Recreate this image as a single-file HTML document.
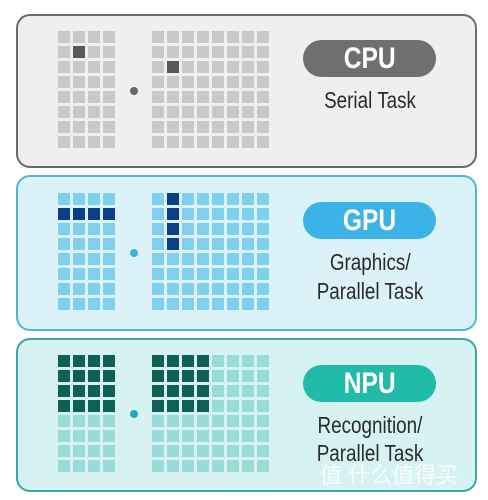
<!DOCTYPE html>
<html><head><meta charset="utf-8"><style>
html,body{margin:0;padding:0;width:488px;height:500px;background:#fff;overflow:hidden;font-family:"Liberation Sans",sans-serif}
.box{position:absolute;left:16px;width:457px;border:2px solid;border-radius:14px;box-sizing:content-box}
.g{position:absolute}
.dot{position:absolute;width:8px;height:8px;border-radius:50%}
.pill{position:absolute;left:303px;width:133px;height:37px;border-radius:19px;color:#fff;font-weight:bold;font-size:30px;line-height:37px;text-align:center}
.pill span{display:inline-block;transform:scaleX(0.82)}
.t{position:absolute;left:290px;width:160px;text-align:center;color:#2b2b2b;font-size:23px;line-height:29px}
.t span{display:inline-block;transform:scaleX(0.82)}
</style></head><body>

<div class="box" style="top:14px;height:150px;background:#efeff0;border-color:#6b6b6b"></div>
<div class="box" style="top:175px;height:152px;background:#dcf2f9;border-color:#52b6d3"></div>
<div class="box" style="top:338px;height:150px;background:#d6f2f2;border-color:#3aa6a6"></div>

<div class="g" style="left:58px;top:31px;width:57px;height:117px;background:repeating-linear-gradient(90deg,transparent 0 12px,#efeff0 12px 15px),repeating-linear-gradient(180deg,#c9c9c9 0 12px,#efeff0 12px 15px)"></div>
<div class="g" style="left:152px;top:31px;width:117px;height:117px;background:repeating-linear-gradient(90deg,transparent 0 12px,#efeff0 12px 15px),repeating-linear-gradient(180deg,#c9c9c9 0 12px,#efeff0 12px 15px)"></div>
<div class="g" style="left:73px;top:46px;width:12px;height:12px;background:#595959"></div>
<div class="g" style="left:167px;top:61px;width:12px;height:12px;background:#595959"></div>
<div class="dot" style="left:130px;top:87px;background:#666"></div>

<div class="g" style="left:58px;top:193px;width:57px;height:117px;background:repeating-linear-gradient(90deg,transparent 0 12px,#dcf2f9 12px 15px),repeating-linear-gradient(180deg,#80cfee 0 12px,#dcf2f9 12px 15px)"></div>
<div class="g" style="left:152px;top:193px;width:117px;height:117px;background:repeating-linear-gradient(90deg,transparent 0 12px,#dcf2f9 12px 15px),repeating-linear-gradient(180deg,#80cfee 0 12px,#dcf2f9 12px 15px)"></div>
<div class="g" style="left:58px;top:208px;width:57px;height:12px;background:repeating-linear-gradient(90deg,#0c3e88 0 12px,#dcf2f9 12px 15px)"></div>
<div class="g" style="left:167px;top:193px;width:12px;height:57px;background:repeating-linear-gradient(180deg,#0c3e88 0 12px,#dcf2f9 12px 15px)"></div>
<div class="dot" style="left:130px;top:249px;background:#3ab3e0"></div>

<div class="g" style="left:58px;top:355px;width:57px;height:117px;background:repeating-linear-gradient(90deg,transparent 0 12px,#d6f2f2 12px 15px),repeating-linear-gradient(180deg,#98dcd8 0 12px,#d6f2f2 12px 15px)"></div>
<div class="g" style="left:152px;top:355px;width:117px;height:117px;background:repeating-linear-gradient(90deg,transparent 0 12px,#d6f2f2 12px 15px),repeating-linear-gradient(180deg,#98dcd8 0 12px,#d6f2f2 12px 15px)"></div>
<div class="g" style="left:58px;top:355px;width:57px;height:57px;background:repeating-linear-gradient(90deg,transparent 0 12px,#d6f2f2 12px 15px),repeating-linear-gradient(180deg,#0e5f56 0 12px,#d6f2f2 12px 15px)"></div>
<div class="g" style="left:152px;top:355px;width:57px;height:57px;background:repeating-linear-gradient(90deg,transparent 0 12px,#d6f2f2 12px 15px),repeating-linear-gradient(180deg,#0e5f56 0 12px,#d6f2f2 12px 15px)"></div>
<div class="dot" style="left:130px;top:410px;background:#22aab6"></div>

<div class="pill" style="top:40px;background:#6f6f6f"><span>CPU</span></div>
<div class="t" style="top:86px"><span>Serial Task</span></div>

<div class="pill" style="top:202px;background:#3bb3e6"><span>GPU</span></div>
<div class="t" style="top:248px"><span>Graphics/</span></div>
<div class="t" style="top:277px"><span>Parallel Task</span></div>

<div class="pill" style="top:365px;background:#20bba9"><span>NPU</span></div>
<div class="t" style="top:411px"><span>Recognition/</span></div>
<div class="t" style="top:439px"><span>Parallel Task</span></div>

<div style="position:absolute;left:320px;top:458px;font-size:22px;color:rgba(255,255,255,0.85);font-family:'Liberation Sans','Noto Sans CJK SC',sans-serif">值 什么值得买</div>
</body></html>
